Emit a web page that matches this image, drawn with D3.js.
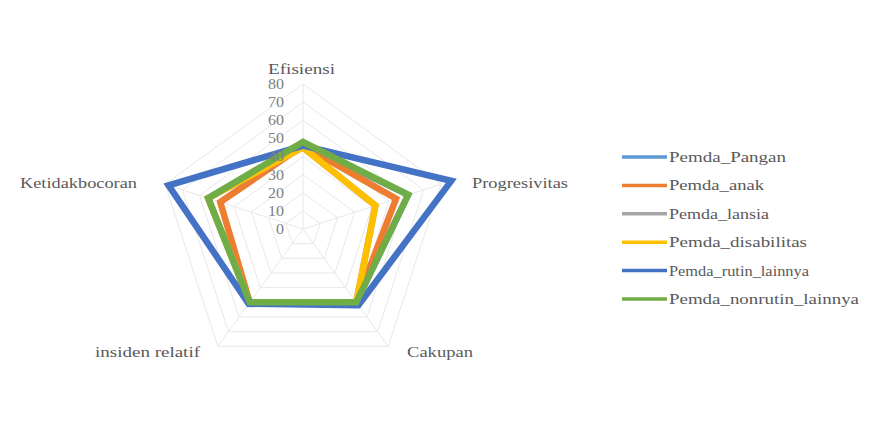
<!DOCTYPE html>
<html><head><meta charset="utf-8">
<script src="https://cdn.jsdelivr.net/npm/d3@7"></script>
<style>body{margin:0;background:#fff}svg{display:block}text{font-family:"Liberation Serif","Times New Roman","DejaVu Serif",serif}</style>
</head><body>
<svg id="c" width="870" height="434"></svg>
<script>
const axes = ["Efisiensi","Progresivitas","Cakupan","insiden relatif","Ketidakbocoran"];
const seriesNames = ["Pemda_Pangan","Pemda_anak","Pemda_lansia","Pemda_disabilitas","Pemda_rutin_lainnya","Pemda_nonrutin_lainnya"];
const Pemda_Pangan = [47, 61, 50, 50, 55];
const Pemda_anak = [46, 54, 50, 50, 48];
const Pemda_lansia = [45, 42, 50, 50, 55];
const Pemda_disabilitas = [45, 42, 50, 50, 55];
const Pemda_rutin_lainnya = [46, 86, 52, 51, 78];
const Pemda_nonrutin_lainnya = [48, 61, 50, 50, 55];
const seriesValues = [Pemda_Pangan, Pemda_anak, Pemda_lansia, Pemda_disabilitas, Pemda_rutin_lainnya, Pemda_nonrutin_lainnya];
const ticks = [0,10,20,30,40,50,60,70,80];
const colors = ["#5B9BD5","#ED7D31","#A5A5A5","#FFC000","#4472C4","#70AD47"];

const svg = d3.select("#c");
const cx = 303, cy = 229;
const r = d3.scaleLinear().domain([0,80]).range([0,145]);
const ang = d3.scalePoint().domain(axes).range([0, 2*Math.PI*4/5]);
const pt = (a, v) => { const t = ang(a) - Math.PI/2; return [cx + r(v)*Math.cos(t), cy + r(v)*Math.sin(t)]; };

const g = svg.append("g");
ticks.forEach(t => {
  g.append("path")
   .attr("d", d3.line()(axes.map(a => pt(a, t))) + "Z")
   .attr("fill","none").attr("stroke","#e8e8e8").attr("stroke-width",1);
});
axes.forEach(a => {
  const [x,y] = pt(a, 80);
  g.append("line").attr("x1",cx).attr("y1",cy).attr("x2",x).attr("y2",y)
   .attr("stroke","#e8e8e8").attr("stroke-width",1);
});

const line = d3.line().curve(d3.curveLinearClosed);
seriesValues.forEach((vals, i) => {
  svg.append("path")
    .attr("d", line(axes.map((a, j) => pt(a, vals[j]))))
    .attr("fill","none").attr("stroke",colors[i]).attr("stroke-width",6.5)
    .attr("stroke-linejoin","miter");
});

ticks.forEach(t => {
  svg.append("text").attr("x", cx - 19).attr("y", cy - r(t)).attr("dy","0.35em")
    .attr("text-anchor","end").attr("font-size",14).attr("fill","#808080")
    .attr("textLength", t < 10 ? 8 : 16).attr("lengthAdjust","spacingAndGlyphs").text(t);
});

const labelPos = {
  "Efisiensi": {x:268, y:69, w:67},
  "Progresivitas": {x:472, y:183, w:96},
  "Cakupan": {x:407, y:352, w:66},
  "insiden relatif": {x:95, y:352, w:105},
  "Ketidakbocoran": {x:20, y:183, w:117}
};
axes.forEach(a => {
  const p = labelPos[a];
  svg.append("text").attr("x",p.x).attr("y",p.y).attr("dy","0.35em")
    .attr("font-size",14.5).attr("fill","#595959")
    .attr("textLength",p.w).attr("lengthAdjust","spacingAndGlyphs").text(a);
});

const legW = [117, 95, 100, 138, 140, 190];
const ly = d3.scalePoint().domain(seriesNames).range([157, 299]);
seriesNames.forEach((n, i) => {
  const y = ly(n);
  svg.append("line").attr("x1",622).attr("x2",667).attr("y1",y).attr("y2",y)
    .attr("stroke",colors[i]).attr("stroke-width",3.5);
  svg.append("text").attr("x",669).attr("y",y).attr("dy","0.35em")
    .attr("font-size",14).attr("fill","#595959")
    .attr("textLength",legW[i]).attr("lengthAdjust","spacingAndGlyphs").text(n);
});
</script>
</body></html>
